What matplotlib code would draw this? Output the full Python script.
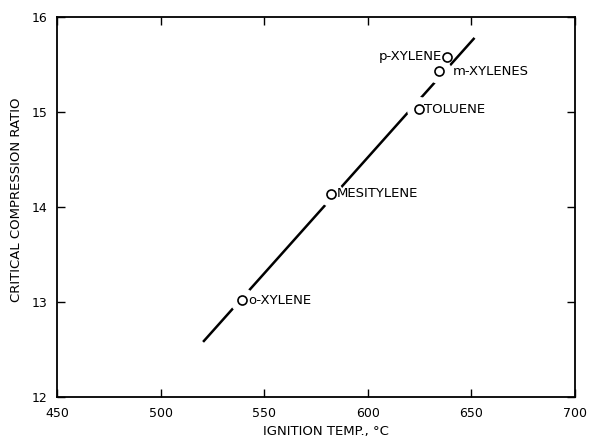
import matplotlib
matplotlib.use("Agg")
import matplotlib.pyplot as plt

# Data
compounds = ["o-XYLENE", "MESITYLENE", "TOLUENE", "m-XYLENES", "p-XYLENE"]
ignition_temp = [539.5, 582.0, 624.5, 634.5, 638.0]
compression_ratio = [13.02, 14.14, 15.03, 15.43, 15.58]
line_gap = [True, True, True, True, False]   # line broken around the marker

fit_temp = [520.5, 651.5]
fit_ratio = [12.58, 15.78]

x_ticks = [450, 500, 550, 600, 650, 700]
y_ticks = [12, 13, 14, 15, 16]

fig = plt.figure(figsize=(5.89, 4.36), dpi=100)
ax = fig.add_axes([57 / 589, 39 / 436, 518 / 589, 380 / 436])

ax.plot(fit_temp, fit_ratio, color="black", lw=1.8, zorder=2, solid_capstyle="butt")

gx = [x for x, g in zip(ignition_temp, line_gap) if g]
gy = [y for y, g in zip(compression_ratio, line_gap) if g]
ax.plot(gx, gy, ls="none", marker="o", ms=17, mfc="white", mec="white", zorder=3)
ax.plot(ignition_temp, compression_ratio, ls="none", marker="o", ms=6.5,
        mfc="white", mec="black", mew=1.2, zorder=4)

offsets = {
    "o-XYLENE": (4.5, 0, "left"),
    "MESITYLENE": (4.5, 0, "left"),
    "TOLUENE": (4, 0, "left"),
    "m-XYLENES": (9.5, 0, "left"),
    "p-XYLENE": (-3.5, 0, "right"),
}
for name, x, y in zip(compounds, ignition_temp, compression_ratio):
    dx, dy, ha = offsets[name]
    ax.annotate(name, (x, y), xytext=(dx, dy), textcoords="offset points",
                ha=ha, va="center", fontsize=9.5, color="black")

ax.set_xlim(450, 700)
ax.set_ylim(12, 16)
ax.set_xticks(x_ticks)
ax.set_yticks(y_ticks)
ax.tick_params(direction="in", length=6, width=1, top=True, right=True,
               labelsize=9, pad=7)
for s in ax.spines.values():
    s.set_linewidth(1.3)

fig.text(326 / 589, 5 / 436, "IGNITION TEMP., \u00b0C", fontsize=9.5,
         ha="center", va="center")
fig.text(17 / 589, (436 - 200) / 436, "CRITICAL COMPRESSION RATIO", fontsize=9.5,
         ha="center", va="center", rotation=90)

fig.savefig("out.png", dpi=100)
